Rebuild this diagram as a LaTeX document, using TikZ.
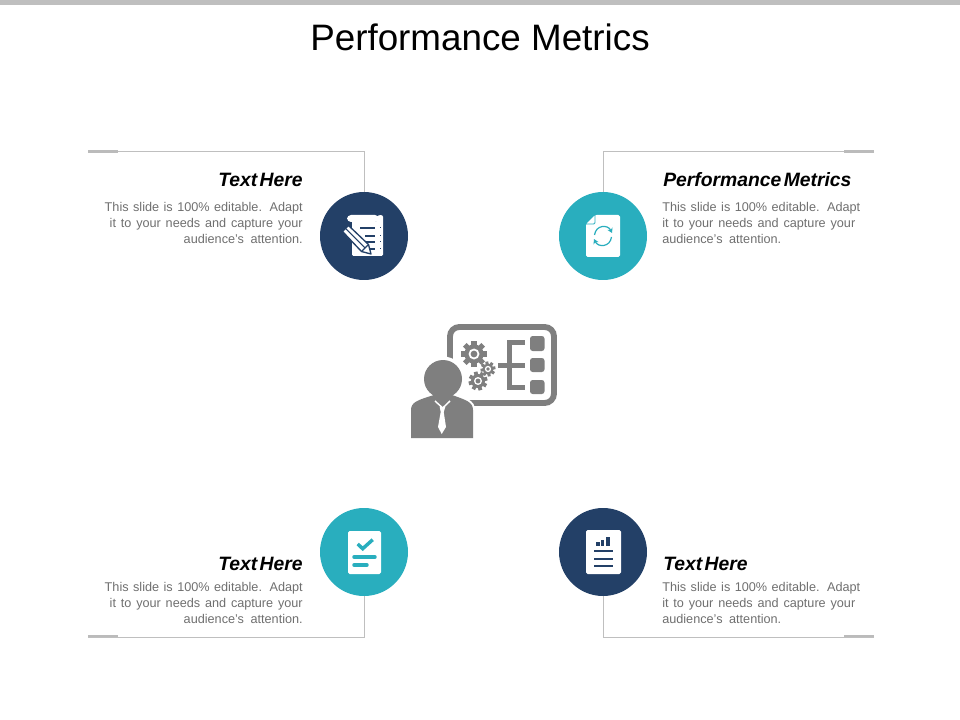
\documentclass[tikz,border=0pt]{standalone}
\usepackage{fontspec}
\setmainfont{Liberation Sans}
\usetikzlibrary{arrows.meta}
\definecolor{navy}{HTML}{234067}
\definecolor{teal2}{HTML}{29AEBE}
\definecolor{linegrey}{HTML}{BFBFBF}
\definecolor{tabgrey}{HTML}{BBBBBB}
\definecolor{icongrey}{HTML}{7F7F7F}
\definecolor{bodygrey}{HTML}{6F6F6F}
\newcommand{\bodyR}{\makebox[148.5pt][s]{This slide is 100\% editable. Adapt}\\\makebox[144.75pt][s]{it to your needs and capture your}\\\makebox[89.25pt][s]{audience's attention.}}
\newcommand{\tightsp}{\spaceskip=0.12em\relax}
\newcommand{\cogwheel}[4]{%
  \begin{scope}[shift={(#1,#2)}]
    \fill[icongrey] (0,0) circle[radius=#3*0.74];
    \foreach \a in {0,45,...,315}{
      \fill[icongrey,rotate=\a+#4] (-#3*0.2,0) rectangle (#3*0.2,#3);
    }
    \fill[white] (0,0) circle[radius=#3*0.42];
    \fill[icongrey] (0,0) circle[radius=#3*0.26];
  \end{scope}}
\tikzset{
  x=0.75pt,y=-0.75pt,
  conn/.style={draw=linegrey,line width=0.75pt},
  tab/.style={draw=tabgrey,line width=2.2pt},
  disc/.style={circle,minimum size=66pt,inner sep=0pt,draw=none},
  headL/.style={anchor=base east,inner sep=0pt,font=\fontsize{14.5}{16}\selectfont\bfseries\itshape},
  headR/.style={anchor=base west,inner sep=0pt,font=\fontsize{14.5}{16}\selectfont\bfseries\itshape},
  copyL/.style={anchor=north east,inner sep=0pt,align=right,text=bodygrey,font=\fontsize{9.5}{12}\selectfont},
  copyR/.style={anchor=north west,inner sep=0pt,align=left,text=bodygrey,font=\fontsize{9.5}{12}\selectfont},
  paper/.style={fill=white,rounded corners=1.3pt},
  cutN/.style={draw=navy,line width=1pt},
  cutT/.style={draw=teal2,line width=2.6pt,line cap=round},
}
\begin{document}
\begin{tikzpicture}
\useasboundingbox (0,0) rectangle (960,720);
\fill[linegrey] (0,0) rectangle (960,5);

\node[anchor=base,inner sep=0pt,font=\fontsize{27.6}{30}\selectfont] (title) at (480,51) {Performance Metrics};

% discs
\node[disc,fill=navy]  (c1) at (364,236) {};
\node[disc,fill=teal2] (c2) at (603,236) {};
\node[disc,fill=teal2] (c3) at (364,552) {};
\node[disc,fill=navy]  (c4) at (603,552) {};

% connectors
\coordinate (e1) at (88,151.5);
\coordinate (t1) at (118,151.5);
\coordinate (e2) at (874,151.5);
\coordinate (t2) at (844,151.5);
\coordinate (e3) at (88,637);
\coordinate (t3) at (118,637);
\coordinate (e4) at (874,637);
\coordinate (t4) at (844,637);
\draw[conn] (e1) -| (c1.north);
\draw[conn] (e2) -| (c2.north);
\draw[conn] (e3) -| (c3.south);
\draw[conn] (e4) -| (c4.south);
\draw[tab] (e1) -- (t1);
\draw[tab] (e2) -- (t2);
\draw[tab] ([yshift=0.75pt]e3) -- ([yshift=0.75pt]t3);
\draw[tab] ([yshift=0.75pt]e4) -- ([yshift=0.75pt]t4);

% texts
\node[headL] (h1) at (303,187) {\tightsp Text Here};
\node[copyL] (b1) at (303,202) {\bodyR};
\node[headR] (h2) at (663,187) {\tightsp Performance Metrics};
\node[copyR] (b2) at (662,202) {\bodyR};
\node[headL] (h3) at (303,570.5) {\tightsp Text Here};
\node[copyL] (b3) at (303,582) {\bodyR};
\node[headR] (h4) at (663,570.5) {\tightsp Text Here};
\node[copyR] (b4) at (662,582) {\bodyR};

% icon 1: note and pencil
\fill[white,rounded corners=1pt] (352,220) -- (352,256) -- (383,256) -- (383,218) .. controls (383,214.5) and (378,214.5) .. (377,218) -- (377,222) -- cycle;
\fill[white,rounded corners=3pt] (347,215) rectangle (379,222);
\foreach \yy/\xa in {228/360,236/365,242/365,249/367}{
  \draw[navy,line width=0.8pt] (\xa,\yy) -- (375,\yy);
  \fill[navy] (380,\yy-0.5) rectangle (381.3,\yy+0.5);
}
\draw[cutN,fill=white,line join=round] (348.5,225.5) -- (342.5,231.5) -- (361.5,251.5) -- (371,254) -- (368.5,244.5) -- cycle;
\draw[navy,line width=0.8pt] (345.5,228.5) -- (365,248);
\draw[navy,line width=0.8pt] (368.5,244.5) -- (361.5,251.5);

% icon 2: page with refresh arrows
\fill[paper] (595,215) -- (620,215) -- (620,257) -- (586,257) -- (586,224) -- cycle;
\draw[teal2,line width=0.7pt,rounded corners=1pt] (595,216) -- (595,224) -- (587,224);
\draw[teal2,line width=0.9pt,-{Stealth[length=3.6pt,width=4.2pt]}] (594.5,235) .. controls (596,224.5) and (608,224.5) .. (612,233);
\draw[teal2,line width=0.9pt,-{Stealth[length=3.6pt,width=4.2pt]}] (611.5,237) .. controls (610,247.5) and (598,247.5) .. (594,239);

% icon 3: check list
\fill[paper] (348,531) rectangle (381,574);
\draw[teal2,line width=2.6pt] (357.7,544) -- (362.7,548.7) -- (372.7,539.7);
\draw[cutT] (354,557) -- (375,557);
\draw[cutT] (354,565) -- (367,565);

% icon 4: report
\fill[paper] (586,530) rectangle (621,574);
\fill[navy] (596.2,542.3) rectangle (599.6,545.7);
\fill[navy] (600.8,539.7) rectangle (604.2,545.7);
\fill[navy] (606,537) rectangle (610,545.7);
\foreach \yy in {551.3,558.7,565.7}{
  \draw[navy,line width=1.4pt] (594,\yy) -- (612.7,\yy);
}

% centre icon: board
\draw[icongrey,line width=4.4pt,rounded corners=7pt] (450,404) -- (450,327) -- (554,327) -- (554,403) -- (450,403);
\fill[icongrey] (498,362.5) rectangle (525,367.5);
\fill[icongrey] (507,340) rectangle (512,390);
\fill[icongrey] (507,340) rectangle (525,345);
\fill[icongrey] (507,385) rectangle (525,390);
\fill[icongrey,rounded corners=2pt] (530,336) rectangle (544.5,351);
\fill[icongrey,rounded corners=2pt] (530,358) rectangle (544.5,372);
\fill[icongrey,rounded corners=2pt] (530,380) rectangle (544.5,394);
\cogwheel{474}{354}{13}{0}
\cogwheel{488}{369}{7.5}{10}
\cogwheel{478}{381}{9.5}{15}
% person
\fill[white] (443,379) circle[radius=22.5];
\path[draw=white,line width=3pt] (411,410) .. controls (411,402) and (418,400) .. (434,395) -- (452,395) .. controls (466,400) and (473,402) .. (473,410) -- (473,440);
\fill[white] (405,438) rectangle (480,442);
\fill[icongrey] (411,438) -- (411,410) .. controls (411,402) and (418,400) .. (434,395) -- (452,395) .. controls (466,400) and (473,402) .. (473,410) -- (473,438) -- cycle;
\fill[icongrey] (443,379) circle[radius=19];
\draw[white,line width=1.1pt] (435,401) -- (442.7,408) -- (450,401);
\fill[white] (439.7,407) -- (445.3,407) -- (443.7,412) -- (446,427) -- (441.7,434) -- (438,427) -- (440.7,412) -- cycle;
\end{tikzpicture}
\end{document}
